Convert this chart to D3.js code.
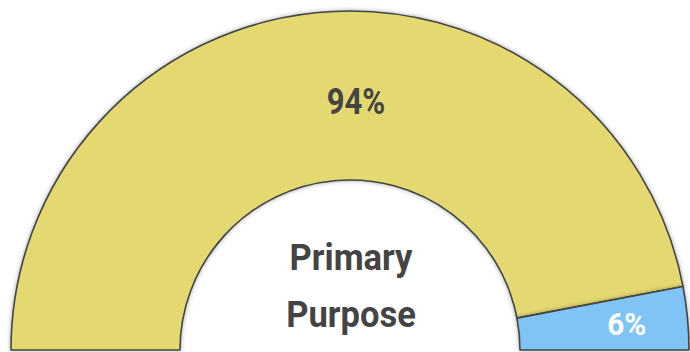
<!DOCTYPE html>
<html>
<head>
<meta charset="utf-8">
<script src="https://cdn.jsdelivr.net/npm/d3@7"></script>
<style>
  html, body { margin: 0; padding: 0; background: #fff; }
  svg { display: block; }
  text { font-family: Roboto, "Liberation Sans", sans-serif; font-weight: 700; }
</style>
</head>
<body>
<svg id="chart" width="690" height="352"></svg>
<script>
// Share of responses for the half-donut gauge
const categories = ["Primary", "Other"];
const values = [94, 6];
const labels = ["94%", "6%"];
const colors = ["#e4d970", "#80c4f6"];
const labelColors = ["#444444", "#ffffff"];
const centerTitle = ["Primary", "Purpose"];

const W = 690, H = 352;
const cx = 350, cy = 350;
const outerR = 339, innerR = 170;

const svg = d3.select("#chart");

const defs = svg.append("defs");
defs.append("filter")
  .attr("id", "shadow")
  .attr("x", "-10%").attr("y", "-10%")
  .attr("width", "120%").attr("height", "120%")
  .append("feDropShadow")
  .attr("dx", 0).attr("dy", 0)
  .attr("stdDeviation", 2)
  .attr("flood-color", "#000")
  .attr("flood-opacity", 0.35);

const pie = d3.pie()
  .sort(null)
  .value(d => d)
  .startAngle(-Math.PI / 2)
  .endAngle(Math.PI / 2);

const arc = d3.arc().innerRadius(innerR).outerRadius(outerR);

const arcs = pie(values);

const g = svg.append("g").attr("transform", `translate(${cx},${cy})`);

g.selectAll("path.slice")
  .data(arcs)
  .join("path")
  .attr("class", "slice")
  .attr("d", arc)
  .attr("fill", (d, i) => colors[i])
  .attr("stroke", "#454545")
  .attr("stroke-width", 1.6)
  .attr("stroke-linejoin", "round")
  .attr("filter", "url(#shadow)");

// Label for the large slice sits near the top of the band
const bigLabelPos = [6, -249];
// Label for the small slice sits toward the outer part of its segment
const smallArc = d3.arc().innerRadius(278).outerRadius(278);
const smallPos = smallArc.centroid(arcs[1]);

const labelPos = [bigLabelPos, smallPos];
const labelSize = [37, 32];
const labelSqueeze = [0.84, 0.93];

g.selectAll("text.val")
  .data(arcs)
  .join("text")
  .attr("class", "val")
  .attr("transform", (d, i) => `translate(${labelPos[i][0]},${labelPos[i][1]}) scale(${labelSqueeze[i]},1)`)
  .attr("text-anchor", "middle")
  .attr("dy", "0.36em")
  .attr("font-size", (d, i) => labelSize[i])
  .attr("fill", (d, i) => labelColors[i])
  .text((d, i) => labels[i]);

// Title inside the gauge
g.selectAll("text.title")
  .data(centerTitle)
  .join("text")
  .attr("class", "title")
  .attr("transform", (d, i) => `translate(1,${-80 + i * 57}) scale(0.96,1)`)
  .attr("text-anchor", "middle")
  .attr("font-size", 36)
  .attr("fill", "#444444")
  .text(d => d);
</script>
</body>
</html>
